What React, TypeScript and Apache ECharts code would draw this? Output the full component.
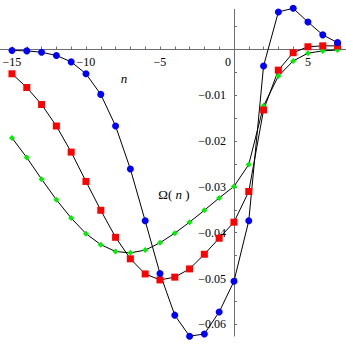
import React, { useEffect, useRef } from "react";
import * as echarts from "echarts";

const nValues = [-15, -14, -13, -12, -11, -10, -9, -8, -7, -6, -5, -4, -3, -2, -1, 0, 1, 2, 3, 4, 5, 6, 7];

const blueValues = [-0.0002, -0.0003, -0.0006, -0.0013, -0.0027, -0.0053, -0.0098, -0.0167, -0.0261, -0.0374, -0.0489, -0.058, -0.0626, -0.0621, -0.0573, -0.0506, -0.0374, -0.0036, 0.0082, 0.009, 0.006, 0.0032, 0.0015];
const redValues = [-0.0053, -0.0083, -0.012, -0.0167, -0.0224, -0.0288, -0.0351, -0.041, -0.0457, -0.049, -0.0503, -0.0497, -0.0479, -0.0447, -0.0412, -0.0377, -0.031, -0.0132, -0.0045, -0.0007, 0.0006, 0.0008, 0.0008];
const greenValues = [-0.0193, -0.0236, -0.0283, -0.0328, -0.0368, -0.0402, -0.0426, -0.0441, -0.0444, -0.0438, -0.0422, -0.0401, -0.0377, -0.0351, -0.0324, -0.0299, -0.0251, -0.0123, -0.0058, -0.0025, -0.0008, -0.0003, -0.0001];

const xTickValues = [-15, -14, -13, -12, -11, -10, -9, -8, -7, -6, -5, -4, -3, -2, -1, 0, 1, 2, 3, 4, 5, 6, 7];
const xLabelValues = [-15, -10, -5, 0, 5];
const yTickValues = [-0.06, -0.055, -0.05, -0.045, -0.04, -0.035, -0.03, -0.025, -0.02, -0.015, -0.01, -0.005, 0.005];
const yLabelValues = [-0.06, -0.05, -0.04, -0.03, -0.02, -0.01];

const FONT = "Liberation Serif, DejaVu Serif, serif";
const AXIS_COLOR = "#6e6e6e";

const fmtNum = (v: number, digits: number) => {
  const s = Math.abs(v).toFixed(digits);
  return v < 0 ? "\u2212" + s : s;
};

const pairs = (ys: number[]) => nValues.map((n, i) => [n, ys[i]]);

export default function App() {
  const ref = useRef<HTMLDivElement>(null);

  useEffect(() => {
    document.body.style.margin = "0";
    if (!ref.current) return;
    const chart = echarts.init(ref.current, undefined, { renderer: "svg" });

    const lineSeries = (name: string, ys: number[], color: string, symbol: string, size: number) => ({
      name,
      type: "line",
      data: pairs(ys),
      symbol,
      symbolSize: size,
      showAllSymbol: true,
      clip: false,
      lineStyle: { color: "#000000", width: 1 },
      itemStyle: { color, borderWidth: 0 },
      emphasis: { disabled: true },
    });

    chart.setOption({
      animation: false,
      backgroundColor: "#ffffff",
      grid: { left: 0, right: 0, top: 9.3, bottom: 10, containLabel: false, outerBoundsMode: "none" },
      xAxis: {
        type: "value",
        position: "bottom",
        min: -15.81,
        max: 7.57,
        splitLine: { show: false },
        axisLine: { onZero: false, lineStyle: { color: AXIS_COLOR, width: 1 } },
        axisTick: { show: true, inside: true, length: 3, customValues: xTickValues, lineStyle: { color: AXIS_COLOR } },
        axisLabel: {
          customValues: xLabelValues,
          margin: 6,
          color: "#000000",
          fontFamily: FONT,
          fontSize: 12,
          formatter: (v: number) => (v === 0 ? "{z|0}" : fmtNum(v, 0)),
          rich: { z: { padding: [0, 12, 0, 0], fontFamily: FONT, fontSize: 12, color: "#000000" } },
        },
      },
      yAxis: {
        type: "value",
        position: "left",
        min: -0.06255,
        max: 0.00878,
        splitLine: { show: false },
        axisLine: { onZero: false, lineStyle: { color: AXIS_COLOR, width: 1 } },
        axisTick: { show: true, inside: true, length: 3, customValues: yTickValues, lineStyle: { color: AXIS_COLOR } },
        axisLabel: {
          customValues: yLabelValues,
          margin: 8,
          color: "#000000",
          fontFamily: FONT,
          fontSize: 12,
          formatter: (v: number) => fmtNum(v, 2),
        },
      },
      graphic: [
        {
          type: "text",
          x: 124,
          y: 78,
          style: { text: "n", fontStyle: "italic", fontFamily: FONT, fontSize: 13, fill: "#000000", align: "center", verticalAlign: "middle" },
        },
        {
          type: "text",
          x: 174,
          y: 194,
          style: {
            text: "\u03A9( {i|n} )",
            fontFamily: FONT,
            fontSize: 13,
            fill: "#000000",
            align: "center",
            verticalAlign: "middle",
            rich: { i: { fontStyle: "italic", fontFamily: FONT, fontSize: 13, fill: "#000000" } },
          },
        },
      ],
      series: [
        lineSeries("green", greenValues, "#00ee00", "diamond", 6),
        lineSeries("red", redValues, "#ff0000", "rect", 7),
        lineSeries("blue", blueValues, "#0000ff", "circle", 7),
      ],
    });

    // Move both axes so they cross at the data origin (0, 0).
    const origin = chart.convertToPixel({ gridIndex: 0 }, [0, 0]) as number[];
    const rect = (chart as any).getModel().getComponent("grid", 0).coordinateSystem.getRect();
    const xOffset = -(rect.y + rect.height - origin[1]);
    const yOffset = -(origin[0] - rect.x);
    chart.setOption({
      xAxis: { offset: xOffset },
      yAxis: { offset: yOffset },
    });

    return () => chart.dispose();
  }, []);

  return <div ref={ref} style={{ width: 346, height: 346 }} />;
}
